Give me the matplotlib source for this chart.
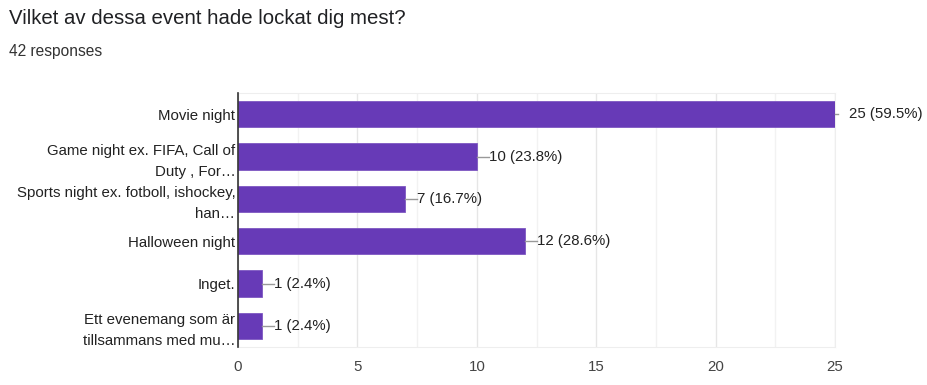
import matplotlib.pyplot as plt
from matplotlib.ticker import MultipleLocator

plt.rcParams['font.family'] = ['Liberation Sans', 'DejaVu Sans']

# data
categories = [
    "Movie night",
    "Game night ex. FIFA, Call of\nDuty , For\u2026",
    "Sports night ex. fotboll, ishockey,\nhan\u2026",
    "Halloween night",
    "Inget.",
    "Ett evenemang som \u00e4r\ntillsammans med mu\u2026",
]
counts = [25, 10, 7, 12, 1, 1]
total = 42
xticks = [0, 5, 10, 15, 20, 25]

bar_color = "#673ab7"
text_color = "#222222"
fs = 10.8

fig = plt.figure(figsize=(9.28, 3.85), dpi=100)
ax = fig.add_axes([0.2565, 0.0987, 0.6433, 0.6597])

ypos = list(range(len(categories)))
ax.barh(ypos, counts, height=0.62, color=bar_color, edgecolor="#7e57c2", linewidth=0.6, zorder=3)

ax.set_ylim(len(categories) - 0.5, -0.5)
ax.set_xlim(0, 25)
ax.set_yticks(ypos)
ax.set_yticklabels(categories, fontsize=fs, color=text_color, linespacing=1.6)
ax.set_xticks(xticks)
ax.set_xticklabels([str(t) for t in xticks], fontsize=fs, color="#444444")
ax.xaxis.set_minor_locator(MultipleLocator(2.5))
ax.tick_params(axis="both", which="both", length=0)
ax.tick_params(axis="y", pad=2)
ax.tick_params(axis="x", pad=9)

ax.grid(axis="x", which="major", color="#e6e6e6", linewidth=1, zorder=0)
ax.grid(axis="x", which="minor", color="#f2f2f2", linewidth=1, zorder=0)

for side in ["top", "right", "bottom"]:
    ax.spines[side].set_color("#eeeeee")
ax.spines["left"].set_color("#333333")
ax.spines["left"].set_linewidth(1.2)
ax.spines["left"].set_zorder(4)

# value labels
for y, c in zip(ypos, counts):
    label = f"{c} ({c / total * 100:.1f}%)"
    if c >= ax.get_xlim()[1]:
        ax.plot([c, c + 0.12], [y, y], color="#999999", lw=1, clip_on=False, zorder=4)
        ax.text(c + 0.6, y, label, va="center", ha="left", fontsize=fs, color=text_color)
    else:
        ax.plot([c, c + 0.5], [y, y], color="#999999", lw=1, clip_on=False, zorder=4)
        ax.text(c + 0.5, y, label, va="center", ha="left", fontsize=fs, color=text_color)

fig.text(0.0097, 0.952, "Vilket av dessa event hade lockat dig mest?", fontsize=14.7,
         color="#202124", va="center", ha="left")
fig.text(0.0097, 0.866, "42 responses", fontsize=11.2, color="#333333", va="center", ha="left")

fig.savefig("out.png", dpi=100)
